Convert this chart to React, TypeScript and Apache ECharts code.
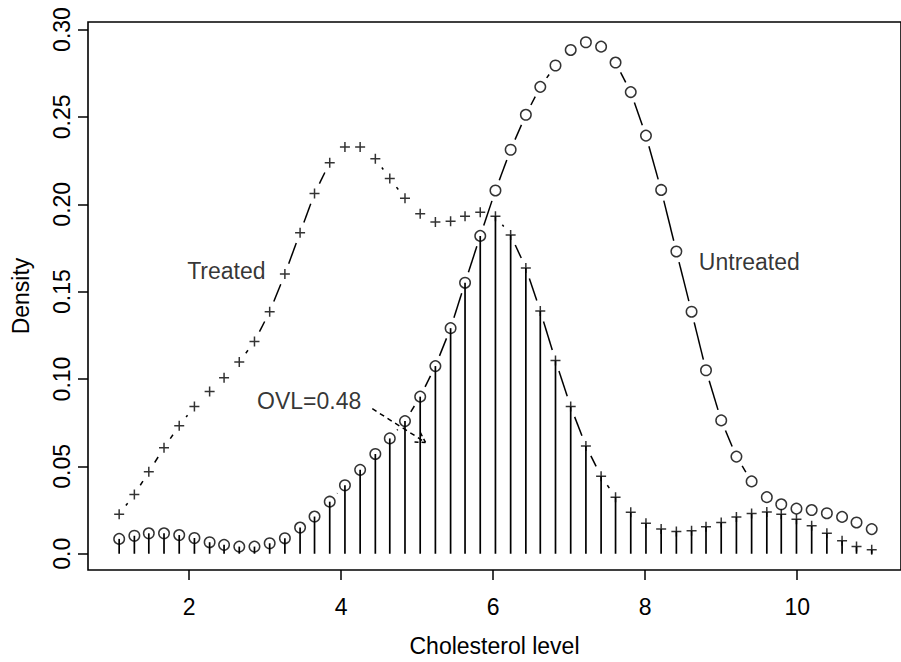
import React, { useEffect, useRef } from "react";
import * as echarts from "echarts";

const cholesterol = [
  1.08, 1.28, 1.47, 1.67, 1.87, 2.07, 2.27, 2.46, 2.66, 2.86,
  3.06, 3.26, 3.46, 3.65, 3.85, 4.05, 4.25, 4.45, 4.64, 4.84,
  5.04, 5.24, 5.44, 5.63, 5.83, 6.03, 6.23, 6.43, 6.62, 6.82,
  7.02, 7.22, 7.42, 7.61, 7.81, 8.01, 8.21, 8.41, 8.61, 8.8,
  9.0, 9.2, 9.4, 9.6, 9.79, 9.99, 10.19, 10.39, 10.59, 10.78, 10.98,
];
const treated = [
  0.0226, 0.0339, 0.0469, 0.0607, 0.0733, 0.0842, 0.0929, 0.1007, 0.1097, 0.1215,
  0.1385, 0.1601, 0.1837, 0.2062, 0.2238, 0.2327, 0.2327, 0.2261, 0.2148, 0.2035,
  0.1945, 0.1898, 0.1903, 0.1932, 0.1954, 0.1932, 0.1824, 0.1635, 0.1389, 0.1106,
  0.0842, 0.0616, 0.0444, 0.0324, 0.0237, 0.0174, 0.0141, 0.0128, 0.0132, 0.0154,
  0.0179, 0.0211, 0.023, 0.0239, 0.0226, 0.0198, 0.016, 0.0117, 0.0075, 0.0041, 0.0023,
];
const untreated = [
  0.0085, 0.0103, 0.0117, 0.0117, 0.0107, 0.009, 0.0066, 0.0051, 0.0041, 0.0041,
  0.006, 0.0089, 0.015, 0.0213, 0.0298, 0.0392, 0.048, 0.0571, 0.066, 0.0759,
  0.0899, 0.1074, 0.1291, 0.1551, 0.1819, 0.2079, 0.2312, 0.2512, 0.2672, 0.2794,
  0.2883, 0.2927, 0.2902, 0.2811, 0.2642, 0.2393, 0.2082, 0.173, 0.1385, 0.105,
  0.0763, 0.0556, 0.0414, 0.0324, 0.0283, 0.0258, 0.025, 0.0232, 0.0211, 0.0179, 0.0141,
];
const xTicks = [2, 4, 6, 8, 10];
const yTicks = [0, 0.05, 0.1, 0.15, 0.2, 0.25, 0.3];
const noteTexts = ["Treated", "Untreated", "OVL=0.48"];
const noteX = [2.49, 9.37, 3.58];
const noteY = [0.162, 0.167, 0.0876];
const arrowFrom = [4.41, 0.083];
const arrowTo = [5.11, 0.0637];

const FONT = "'Liberation Sans', Arial, Helvetica, sans-serif";
const FS = 23;
const LW = 1.5;
const STEM_W = 1.7;
const GAP = 11;
const PLUS = "path://M4.25,0h1.5v10h-1.5z M0,4.25h10v1.5h-10z";

function segmentSeries(ys: number[]) {
  const data: number[][] = [];
  for (let i = 0; i < cholesterol.length - 1; i++) {
    data.push([cholesterol[i], ys[i], cholesterol[i + 1], ys[i + 1]]);
  }
  return {
    type: "custom",
    data,
    dimensions: ["x0", "y0", "x1", "y1"],
    encode: { x: [0, 2], y: [1, 3] },
    silent: true,
    z: 3,
    renderItem: (_p: any, api: any) => {
      const a = api.coord([api.value(0), api.value(1)]);
      const b = api.coord([api.value(2), api.value(3)]);
      const dx = b[0] - a[0];
      const dy = b[1] - a[1];
      const len = Math.hypot(dx, dy);
      if (len <= 2 * GAP) return { type: "group", children: [] };
      const ux = dx / len;
      const uy = dy / len;
      return {
        type: "line",
        shape: {
          x1: a[0] + ux * GAP,
          y1: a[1] + uy * GAP,
          x2: b[0] - ux * GAP,
          y2: b[1] - uy * GAP,
        },
        style: { stroke: "#000", lineWidth: LW, fill: null },
      };
    },
  };
}

export default function App() {
  const ref = useRef<HTMLDivElement>(null);
  useEffect(() => {
    document.body.style.margin = "0";
    if (!ref.current) return;
    const chart = echarts.init(ref.current, undefined, { renderer: "svg" });
    const overlap = cholesterol.map((x, i) => [x, Math.min(treated[i], untreated[i])]);
    const xMin = 0.67;
    const gridW = 820;
    const pxPerUnit = 76.67;
    const option: any = {
      animation: false,
      backgroundColor: "#fff",
      textStyle: { fontFamily: FONT },
      grid: {
        left: 88,
        top: 22,
        width: gridW,
        height: 554,
        show: true,
        borderColor: "#000",
        borderWidth: 1.6,
        backgroundColor: "transparent",
      },
      xAxis: {
        type: "value",
        min: xMin,
        max: xMin + gridW / pxPerUnit,
        name: "Cholesterol level",
        nameLocation: "middle",
        nameGap: 64,
        nameTextStyle: { fontSize: FS, color: "#000", fontFamily: FONT },
        axisLine: { show: false, onZero: false },
        splitLine: { show: false },
        axisTick: {
          show: true,
          customValues: xTicks,
          length: 10,
          lineStyle: { color: "#000", width: LW },
        },
        axisLabel: {
          customValues: xTicks,
          fontSize: FS,
          color: "#000",
          fontFamily: FONT,
          margin: 25,
        },
      },
      yAxis: {
        type: "value",
        min: -0.0093,
        max: 0.3043,
        name: "Density",
        nameLocation: "middle",
        nameRotate: 90,
        nameGap: 56,
        nameTextStyle: { fontSize: FS, color: "#000", fontFamily: FONT },
        axisLine: { show: false, onZero: false },
        splitLine: { show: false },
        axisTick: {
          show: true,
          customValues: yTicks,
          length: 10,
          lineStyle: { color: "#000", width: LW },
        },
        axisLabel: {
          customValues: yTicks,
          rotate: 90,
          fontSize: FS,
          color: "#000",
          fontFamily: FONT,
          margin: 15,
          formatter: (v: number) => (v === 0 ? "0.0" : v.toFixed(2)),
        },
      },
      series: [
        {
          type: "custom",
          data: overlap,
          encode: { x: 0, y: 1 },
          silent: true,
          z: 2,
          renderItem: (_p: any, api: any) => {
            const top = api.coord([api.value(0), api.value(1)]);
            const base = api.coord([api.value(0), 0]);
            return {
              type: "line",
              shape: { x1: base[0], y1: base[1], x2: top[0], y2: top[1] },
              style: { stroke: "#000", lineWidth: STEM_W, fill: null },
            };
          },
        },
        segmentSeries(treated),
        segmentSeries(untreated),
        {
          type: "scatter",
          data: cholesterol.map((x, i) => [x, treated[i]]),
          symbol: PLUS,
          symbolSize: 10,
          itemStyle: { color: "#000" },
          silent: true,
          z: 4,
        },
        {
          type: "scatter",
          data: cholesterol.map((x, i) => [x, untreated[i]]),
          symbol: "circle",
          symbolSize: 10.5,
          itemStyle: { color: "rgba(0,0,0,0)", borderColor: "#000", borderWidth: LW },
          silent: true,
          z: 4,
        },
        {
          type: "scatter",
          data: noteX.map((x, i) => [x, noteY[i]]),
          symbolSize: 0,
          silent: true,
          z: 5,
          itemStyle: { color: "#000" },
          label: {
            show: true,
            position: [0, 0],
            align: "center",
            verticalAlign: "middle",
            formatter: (p: any) => noteTexts[p.dataIndex],
            fontSize: FS,
            color: "#000",
            textBorderWidth: 0,
            fontFamily: FONT,
          },
        },
        {
          type: "custom",
          data: [[arrowFrom[0], arrowFrom[1], arrowTo[0], arrowTo[1]]],
          dimensions: ["x0", "y0", "x1", "y1"],
          encode: { x: [0, 2], y: [1, 3] },
          silent: true,
          z: 6,
          renderItem: (_p: any, api: any) => {
            const a = api.coord([api.value(0), api.value(1)]);
            const b = api.coord([api.value(2), api.value(3)]);
            const ang = Math.atan2(a[1] - b[1], a[0] - b[0]);
            const hl = 11;
            const h1 = [b[0] + hl * Math.cos(ang + Math.PI / 6), b[1] + hl * Math.sin(ang + Math.PI / 6)];
            const h2 = [b[0] + hl * Math.cos(ang - Math.PI / 6), b[1] + hl * Math.sin(ang - Math.PI / 6)];
            const st = { stroke: "#000", lineWidth: LW, lineDash: [5, 4], fill: null };
            return {
              type: "group",
              children: [
                { type: "line", shape: { x1: a[0], y1: a[1], x2: b[0], y2: b[1] }, style: st },
                { type: "line", shape: { x1: b[0], y1: b[1], x2: h1[0], y2: h1[1] }, style: { ...st, lineDash: [4, 3] } },
                { type: "line", shape: { x1: b[0], y1: b[1], x2: h2[0], y2: h2[1] }, style: { ...st, lineDash: [4, 3] } },
              ],
            };
          },
        },
      ],
    };
    chart.setOption(option);
    return () => chart.dispose();
  }, []);
  return <div ref={ref} style={{ width: 901, height: 662 }} />;
}
